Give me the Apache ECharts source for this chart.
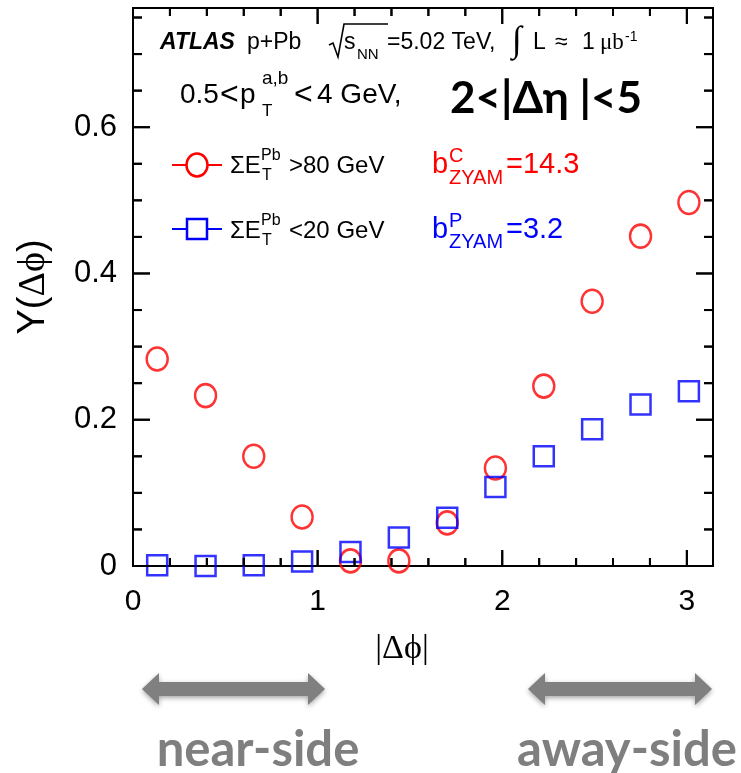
<!DOCTYPE html>
<html>
<head>
<meta charset="utf-8">
<script src="https://cdn.jsdelivr.net/npm/echarts@6.0.0/dist/echarts.min.js"></script>
<style>
html,body{margin:0;padding:0;background:#fff;}
#main{width:741px;height:773px;}
</style>
</head>
<body>
<div id="main"></div>
<script>
// ---- data ----
const binCenters = [0.131, 0.393, 0.654, 0.916, 1.178, 1.440, 1.702, 1.963, 2.225, 2.487, 2.749, 3.011];
const centralY   = [0.283, 0.233, 0.150, 0.067, 0.007, 0.007, 0.059, 0.134, 0.246, 0.362, 0.451, 0.497];
const periphY    = [0.001, 0.000, 0.001, 0.006, 0.019, 0.039, 0.066, 0.108, 0.150, 0.187, 0.221, 0.239];
const xMajorTicks = [0, 1, 2, 3];
const xMinorTicks = [0.2, 0.4, 0.6, 0.8, 1.2, 1.4, 1.6, 1.8, 2.2, 2.4, 2.6, 2.8];
const yMajorTicks = [0, 0.2, 0.4, 0.6];
const yMinorTicks = [0.05, 0.1, 0.15, 0.25, 0.3, 0.35, 0.45, 0.5, 0.55, 0.65, 0.7, 0.75];
const xMax = 3.14159;
const yMax = 0.763;

const SANS = "'Liberation Sans', Arial, Helvetica, sans-serif";
const SERIF = "'Liberation Serif', 'DejaVu Serif', 'Times New Roman', serif";
const BOLDF = "Lato, 'Noto Sans', 'DejaVu Sans', sans-serif";

function T(x, y, s, size, opts) {
  opts = opts || {};
  const font = (opts.style || '') + ' ' + (opts.weight || 'normal') + ' ' + size + 'px ' + (opts.family || SANS);
  return {
    type: 'text', x: x, y: y, z: 10,
    style: {
      text: s, font: font, fill: opts.color || '#000',
      align: opts.align || 'left', verticalAlign: 'middle',
      textAlign: opts.align || 'left', textVerticalAlign: 'middle'
    }
  };
}

const chart = echarts.init(document.getElementById('main'), null, {renderer: 'canvas'});

const RED = '#ff0000';
const BLUE = '#0000ff';
const G = [];
// header line 1
G.push(T(160, 43, 'ATLAS', 23, {weight: 'bold', style: 'italic'}));
G.push(T(247, 43, 'p+Pb', 23));
G.push({type: 'polyline', z: 10, shape: {points: [[329, 45], [333, 43], [338, 57], [344, 24], [388, 24]]},
        style: {stroke: '#000', lineWidth: 1.6, fill: 'none'}});
G.push(T(344, 43, 's', 23));
G.push(T(357, 55, 'NN', 15));
G.push(T(387, 43, '=5.02 TeV,', 23));
G.push(T(512, 42, '∫', 36, {family: SERIF}));
G.push(T(533, 43, 'L', 23));
G.push(T(555, 43, '≈', 23));
G.push(T(582, 43, '1', 23));
G.push(T(600, 43, 'μb', 23, {family: SERIF}));
G.push(T(625, 37, '-1', 14));
// header line 2
G.push(T(180, 95, '0.5', 28));
G.push(T(220, 95, '<', 32));
G.push(T(240, 95, 'p', 28));
G.push(T(262, 79, 'a,b', 19));
G.push(T(262, 111, 'T', 17));
G.push(T(294, 95, '<', 32));
G.push(T(317, 95, '4 GeV,', 28));
G.push(T(450, 99, '2<|Δη |<5', 44, {weight: 'bold', family: BOLDF}));
// legend row 1
G.push({type: 'line', z: 10, shape: {x1: 172, y1: 165, x2: 222, y2: 165}, style: {stroke: RED, lineWidth: 2}});
G.push({type: 'ellipse', z: 11, shape: {cx: 197, cy: 165, rx: 10.5, ry: 11.5}, style: {stroke: RED, lineWidth: 2.5, fill: '#fff'}});
G.push(T(230, 166, 'ΣE', 24));
G.push(T(261, 156, 'Pb', 16));
G.push(T(262, 176, 'T', 16));
G.push(T(289, 166, '>80 GeV', 24));
G.push(T(432, 165, 'b', 29, {color: RED}));
G.push(T(449, 156, 'C', 20, {color: RED}));
G.push(T(449, 178, 'ZYAM', 20, {color: RED}));
G.push(T(506, 165, '=14.3', 29, {color: RED}));
// legend row 2
G.push({type: 'line', z: 10, shape: {x1: 172, y1: 229, x2: 222, y2: 229}, style: {stroke: BLUE, lineWidth: 2}});
G.push({type: 'rect', z: 11, shape: {x: 187, y: 219, width: 20, height: 20}, style: {stroke: BLUE, lineWidth: 2.5, fill: '#fff'}});
G.push(T(230, 231, 'ΣE', 24));
G.push(T(261, 221, 'Pb', 16));
G.push(T(262, 241, 'T', 16));
G.push(T(289, 231, '<20 GeV', 24));
G.push(T(432, 230, 'b', 29, {color: BLUE}));
G.push(T(449, 221, 'P', 20, {color: BLUE}));
G.push(T(449, 242, 'ZYAM', 20, {color: BLUE}));
G.push(T(506, 230, '=3.2', 29, {color: BLUE}));
// arrows + side labels
function arrow(x1, x2, cy) {
  const h = 17, s = 7, w = 16;
  return {
    type: 'polygon', z: 10,
    shape: {points: [[x1, cy], [x1 + h, cy - w], [x1 + h, cy - s], [x2 - h, cy - s], [x2 - h, cy - w], [x2, cy],
                     [x2 - h, cy + w], [x2 - h, cy + s], [x1 + h, cy + s], [x1 + h, cy + w]]},
    style: {fill: '#808080', shadowBlur: 5, shadowColor: 'rgba(0,0,0,0.35)', shadowOffsetY: 2}
  };
}
G.push(arrow(142, 325, 689));
G.push(arrow(528, 712, 689));
G.push(T(258, 750, 'near-side', 49, {weight: 'bold', family: BOLDF, color: '#7f7f7f', align: 'center'}));
G.push(T(627, 750, 'away-side', 49, {weight: 'bold', family: BOLDF, color: '#7f7f7f', align: 'center'}));

const option = {
  backgroundColor: '#fff',
  animation: false,
  grid: {left: 133, right: 28, top: 8, bottom: 207, containLabel: false,
         show: true, borderColor: '#000', borderWidth: 2},
  xAxis: {
    type: 'value', min: 0, max: xMax, position: 'bottom',
    axisLine: {show: false, onZero: false},
    axisTick: {show: false},
    axisLabel: {show: true, customValues: xMajorTicks, fontSize: 30, fontFamily: SANS, color: '#000', margin: 21,
      formatter: v => String(Math.round(v))},
    splitLine: {show: false},
    name: '|Δϕ|', nameLocation: 'middle', nameGap: 66,
    nameTextStyle: {fontSize: 34, fontFamily: SERIF, color: '#000', padding: [0, 42, 0, 0]}
  },
  yAxis: {
    type: 'value', min: 0, max: yMax, position: 'left',
    axisLine: {show: false, onZero: false},
    axisTick: {show: false},
    axisLabel: {show: true, customValues: yMajorTicks, fontSize: 31, fontFamily: SANS, color: '#000', margin: 16,
      formatter: v => (Math.abs(v) < 1e-9 ? '0' : v.toFixed(1))},
    splitLine: {show: false},
    name: '{a|Y(}{b|Δϕ}{a|)}', nameLocation: 'middle', nameGap: 80,
    nameTextStyle: {
      color: '#000',
      rich: {
        a: {fontSize: 38, fontFamily: SANS, color: '#000'},
        b: {fontSize: 38, fontFamily: SERIF, color: '#000'}
      }
    }
  },
  series: [
    {
      type: 'scatter', name: 'ΣE_T^Pb>80 GeV',
      data: binCenters.map((x, i) => [x, centralY[i]]),
      symbol: 'circle', symbolSize: [21, 23],
      itemStyle: {color: 'rgba(255,255,255,0)', borderColor: RED, borderWidth: 2.5},
      emphasis: {disabled: true}, z: 3
    },
    {
      type: 'scatter', name: 'ΣE_T^Pb<20 GeV',
      data: binCenters.map((x, i) => [x, periphY[i]]),
      symbol: 'rect', symbolSize: 20,
      itemStyle: {color: 'rgba(255,255,255,0)', borderColor: BLUE, borderWidth: 2.5},
      emphasis: {disabled: true}, z: 4
    }
  ]
};
// first pass: lay out axes so their scales can place the tick marks
chart.setOption(option);

const tickSegs = [];
const lo = chart.convertToPixel({gridIndex: 0}, [0, 0]);
const hi = chart.convertToPixel({gridIndex: 0}, [xMax, yMax]);
const xl = lo[0], xr = hi[0], yb = lo[1], yt = hi[1];
function xTick(v, len) {
  const px = chart.convertToPixel({xAxisIndex: 0}, v);
  tickSegs.push([px, yb, px, yb - len]);
  tickSegs.push([px, yt, px, yt + len]);
}
function yTick(v, len) {
  const py = chart.convertToPixel({yAxisIndex: 0}, v);
  tickSegs.push([xl, py, xl + len, py]);
  tickSegs.push([xr, py, xr - len, py]);
}
xMajorTicks.forEach(v => xTick(v, 16));
xMinorTicks.forEach(v => xTick(v, 8));
yMajorTicks.forEach(v => yTick(v, 17));
yMinorTicks.forEach(v => yTick(v, 9));

const TK = tickSegs.map(s => ({type: 'line', z: 10,
  shape: {x1: s[0], y1: s[1], x2: s[2], y2: s[3]}, style: {stroke: '#000', lineWidth: 2}}));

// second pass: full option, replaced rather than merged
option.graphic = {elements: G.concat(TK)};
chart.setOption(option, true);

// also put the same tick segments straight onto the renderer
try {
  const zr = chart.getZr();
  tickSegs.forEach(s => {
    zr.add(new echarts.graphic.Line({
      z: 100,
      shape: {x1: s[0], y1: s[1], x2: s[2], y2: s[3]},
      style: {stroke: '#000', lineWidth: 2}
    }));
  });
} catch (e) {}
</script>
</body>
</html>
